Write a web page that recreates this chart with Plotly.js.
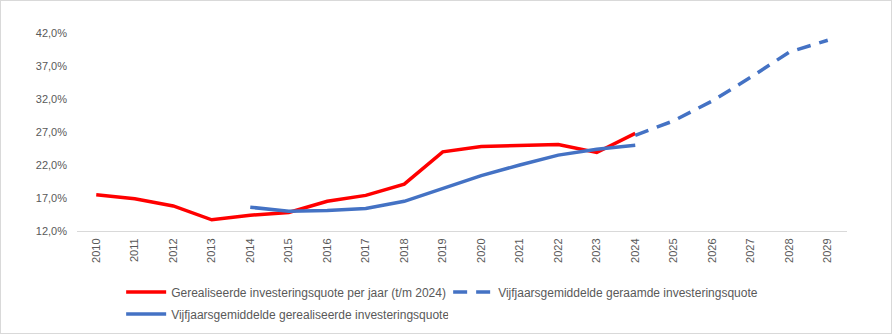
<!DOCTYPE html>
<html>
<head>
<meta charset="utf-8">
<script src="https://cdn.plot.ly/plotly-3.0.1.min.js"></script>
<style>
html,body{margin:0;padding:0;background:#fff;}
#chart{width:892px;height:334px;box-sizing:border-box;border:1px solid #d9d9d9;}
</style>
</head>
<body>
<div id="chart"></div>
<script>
const years = ['2010','2011','2012','2013','2014','2015','2016','2017','2018','2019','2020','2021','2022','2023','2024','2025','2026','2027','2028','2029'];
const realisedYears = ['2010','2011','2012','2013','2014','2015','2016','2017','2018','2019','2020','2021','2022','2023','2024'];
const realisedPerYear = [17.5, 16.9, 15.8, 13.7, 14.4, 14.8, 16.5, 17.4, 19.1, 24.0, 24.8, 24.9, 25.1, 23.9, 26.8];
const fiveYearYears = ['2014','2015','2016','2017','2018','2019','2020','2021','2022','2023','2024'];
const fiveYearRealised = [15.6, 15.0, 15.1, 15.4, 16.5, 18.4, 20.4, 22.0, 23.5, 24.4, 25.0];
const forecastYears = ['2024','2025','2026','2027','2028','2029'];
const fiveYearForecast = [26.5, 28.7, 31.7, 35.3, 39.1, 40.9];
const seriesNames = ['Gerealiseerde investeringsquote per jaar (t/m 2024)', 'Vijfjaarsgemiddelde geraamde investeringsquote', 'Vijfjaarsgemiddelde gerealiseerde investeringsquote'];

const traces = [
  {x: realisedYears, y: realisedPerYear, name: seriesNames[0], type: 'scatter', mode: 'lines',
   line: {color: '#ff0000', width: 3.5}, legend: 'legend'},
  {x: forecastYears, y: fiveYearForecast, name: seriesNames[1], type: 'scatter', mode: 'lines',
   line: {color: '#4472c4', width: 3.5, dash: '14px,9px'}, legend: 'legend'},
  {x: fiveYearYears, y: fiveYearRealised, name: seriesNames[2], type: 'scatter', mode: 'lines',
   line: {color: '#4472c4', width: 3.5}, legend: 'legend2'}
];

const legendCommon = {orientation: 'h', xref: 'container', yref: 'container', xanchor: 'left', yanchor: 'middle',
  entrywidth: 272, entrywidthmode: 'pixels', traceorder: 'normal', bgcolor: 'rgba(0,0,0,0)',
  font: {size: 12, color: '#595959'}, itemwidth: 40};

const layout = {
  width: 890, height: 332,
  margin: {l: 76, r: 44, t: 32, b: 102},
  paper_bgcolor: '#fff', plot_bgcolor: '#fff',
  separators: ',.',
  font: {family: 'Liberation Sans, Arial, sans-serif', size: 11, color: '#595959'},
  showlegend: true,
  legend: Object.assign({}, legendCommon, {x: 0.135, y: 1 - 291/332}),
  legend2: Object.assign({}, legendCommon, {x: 0.135, y: 1 - 313/332}),
  xaxis: {type: 'category', categoryorder: 'array', categoryarray: years, automargin: false,
          showgrid: false, zeroline: false, showline: true, linecolor: '#d9d9d9', linewidth: 1,
          ticks: '', tickangle: -90, tickfont: {size: 11, color: '#595959'}, range: [-0.5, 19.5],
          ticklabelstandoff: 2},
  yaxis: {range: [12, 42], tick0: 12, dtick: 5, tickformat: '.1f', ticksuffix: '%', automargin: false,
          showgrid: false, zeroline: false, showline: false, ticks: '',
          tickfont: {size: 11, color: '#595959'}, ticklabelstandoff: 9}
};

Plotly.newPlot('chart', traces, layout, {displayModeBar: false, staticPlot: true});
</script>
</body>
</html>
